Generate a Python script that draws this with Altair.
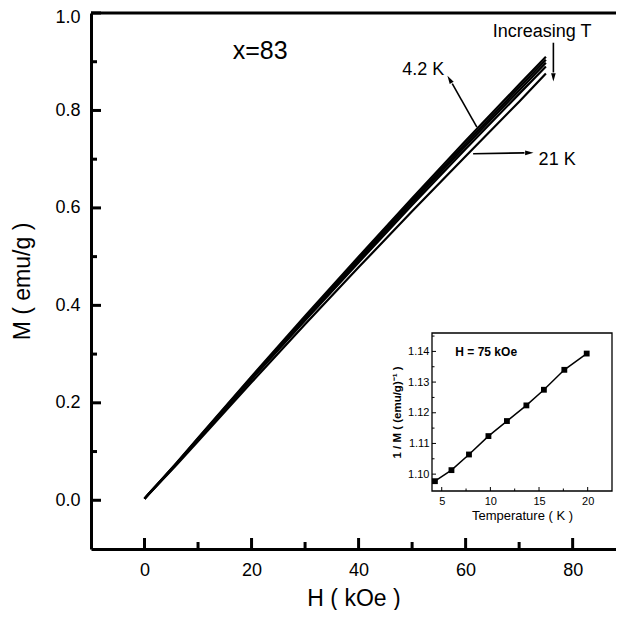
import altair as alt
import pandas as pd

FONT = "Liberation Sans"

# ---- main M(H) curves ----
H = [0, 1, 3, 6, 10, 20, 30, 40, 50, 60, 70, 75]
M_4K = [0.003, 0.016, 0.040, 0.077, 0.128, 0.254, 0.378, 0.500, 0.620, 0.738, 0.853, 0.910]
M_8K = [0.003, 0.016, 0.040, 0.076, 0.127, 0.252, 0.375, 0.496, 0.615, 0.732, 0.847, 0.904]
M_12K = [0.003, 0.016, 0.039, 0.075, 0.125, 0.250, 0.372, 0.492, 0.611, 0.727, 0.841, 0.898]
M_16K = [0.003, 0.015, 0.039, 0.075, 0.124, 0.248, 0.369, 0.488, 0.606, 0.721, 0.834, 0.890]
M_21K = [0.003, 0.015, 0.038, 0.073, 0.121, 0.242, 0.361, 0.478, 0.593, 0.706, 0.818, 0.876]
curve_T = ["4.2 K", "7.8 K", "11.7 K", "15.5 K", "21 K"]
curves = [M_4K, M_8K, M_12K, M_16K, M_21K]

# ---- inset 1/M(T) at 75 kOe ----
T_inset = [4.3, 6.0, 7.8, 9.8, 11.7, 13.7, 15.5, 17.6, 19.9]
invM = [1.0977, 1.1013, 1.1064, 1.1124, 1.1173, 1.1224, 1.1275, 1.1340, 1.1393]

# axis ticks
x_major = [0, 20, 40, 60, 80]
x_minor = [10, 30, 50, 70]
y_major = [0.0, 0.2, 0.4, 0.6, 0.8, 1.0]
y_minor = [0.1, 0.3, 0.5, 0.7, 0.9]
ix_major = [5, 10, 15, 20]
ix_minor = [7.5, 12.5, 17.5]
iy_major = [1.10, 1.11, 1.12, 1.13, 1.14]
iy_minor = [1.105, 1.115, 1.125, 1.135, 1.145]

X_DOM = [-10, 88.1]
Y_DOM = [-0.1, 1.0]
W, HGT = 525, 536

rows = []
for t, m in zip(curve_T, curves):
    for h, v in zip(H, m):
        rows.append({"H": h, "M": v, "T": t})
df = pd.DataFrame(rows)

xs = alt.Scale(domain=X_DOM, nice=False, zero=False)
ys = alt.Scale(domain=Y_DOM, nice=False, zero=False)

xaxis = alt.Axis(values=x_major, format="d", ticks=False, grid=False, domainWidth=3,
                 domainColor="black", labelFontSize=18, labelPadding=12, labelColor="black",
                 labelFont=FONT, title="H ( kOe )", titleFont=FONT, titleFontSize=23,
                 titleFontWeight="normal", titleColor="black", titleY=56,
                 titleBaseline="alphabetic")
yaxis = alt.Axis(values=y_major, format=".1f", ticks=False, grid=False, domainWidth=3,
                 domainColor="black", labelFontSize=18, labelPadding=11, labelColor="black",
                 labelFont=FONT, labelFlush=True, labelFlushOffset=5,
                 title="M ( emu/g )", titleFont=FONT, titleFontSize=23,
                 titleFontWeight="normal", titleColor="black", titleX=-57)

lines = alt.Chart(df).mark_line(color="black", strokeWidth=2.2).encode(
    x=alt.X("H:Q", scale=xs, axis=xaxis),
    y=alt.Y("M:Q", scale=ys, axis=yaxis),
    detail="T:N",
)

xmaj = alt.Chart(pd.DataFrame({"H": x_major})).mark_rule(color="black", strokeWidth=3).encode(
    x=alt.X("H:Q", scale=xs), y=alt.value(HGT), y2=alt.value(HGT - 11))
xmin = alt.Chart(pd.DataFrame({"H": x_minor})).mark_rule(color="black", strokeWidth=3).encode(
    x=alt.X("H:Q", scale=xs), y=alt.value(HGT), y2=alt.value(HGT - 7))
ymaj = alt.Chart(pd.DataFrame({"M": y_major})).mark_rule(color="black", strokeWidth=3).encode(
    y=alt.Y("M:Q", scale=ys), x=alt.value(0), x2=alt.value(10))
ymin = alt.Chart(pd.DataFrame({"M": y_minor})).mark_rule(color="black", strokeWidth=3).encode(
    y=alt.Y("M:Q", scale=ys), x=alt.value(0), x2=alt.value(6))
topline = alt.Chart(pd.DataFrame({"M": [1.0]})).mark_rule(color="black", strokeWidth=3).encode(
    y=alt.Y("M:Q", scale=ys), x=alt.value(0), x2=alt.value(W))

# annotations
labels = pd.DataFrame({
    "H": [21.6, 52.1, 77.1, 74.3],
    "M": [0.923, 0.882, 0.698, 0.960],
    "txt": ["x=83", "4.2 K", "21 K", "Increasing T"],
    "size": [25, 18, 18, 18],
})
texts = alt.Chart(labels).mark_text(font=FONT, color="black", align="center", baseline="middle").encode(
    x=alt.X("H:Q", scale=xs), y=alt.Y("M:Q", scale=ys), text="txt:N",
    size=alt.Size("size:Q", scale=None, legend=None))

arrows = pd.DataFrame({
    "H": [62.1, 61.4, 76.4],
    "M": [0.766, 0.711, 0.939],
    "H2": [57.5, 71.0, 76.4],
    "M2": [0.855, 0.713, 0.878],
    "hx": [57.0, 71.9, 76.4],
    "hy": [0.864, 0.713, 0.868],
    "ang": [329.4, 90, 180],
})
shafts = alt.Chart(arrows).mark_rule(color="black", strokeWidth=1.6).encode(
    x=alt.X("H:Q", scale=xs), y=alt.Y("M:Q", scale=ys), x2="H2:Q", y2="M2:Q")
heads = alt.Chart(arrows).mark_point(shape="M0,-1L0.55,1L-0.55,1Z", filled=True, color="black",
                                     size=70, opacity=1).encode(
    x=alt.X("hx:Q", scale=xs), y=alt.Y("hy:Q", scale=ys),
    angle=alt.Angle("ang:Q", scale=None))

main = alt.layer(lines, xmaj, xmin, ymaj, ymin, topline, shafts, heads, texts)

# ---- inset ----
IX_DOM = [4, 22.5]
IY_DOM = [1.0945, 1.146]
IX_R = [341, 521]
IY_R = [478, 320]
ixs = alt.Scale(domain=IX_DOM, range=IX_R, nice=False, zero=False)
iys = alt.Scale(domain=IY_DOM, range=IY_R, nice=False, zero=False)

frame = alt.Chart(pd.DataFrame({"a": [IX_DOM[0]], "b": [IX_DOM[1]], "c": [IY_DOM[0]], "d": [IY_DOM[1]]})).mark_rect(
    fill="white", stroke="black", strokeWidth=1.3).encode(
    x=alt.X("a:Q", scale=ixs, axis=alt.Axis(
        orient="bottom", offset=-(HGT - IY_R[0]), values=ix_major, format="d", ticks=False, grid=False,
        domain=False, labelFontSize=11, labelPadding=4, labelColor="black", labelFont=FONT,
        title="Temperature ( K )", titleFont=FONT, titleFontSize=13, titleFontWeight="normal",
        titleColor="black", titlePadding=3)),
    x2="b:Q",
    y=alt.Y("c:Q", scale=iys, axis=alt.Axis(
        orient="left", offset=-IX_R[0], values=iy_major, format=".2f", ticks=False, grid=False,
        domain=False, labelFontSize=11, labelPadding=3, labelColor="black", labelFont=FONT,
        title="1 / M ( (emu/g)⁻¹ )", titleFont=FONT, titleFontSize=11.5, titleFontWeight="bold",
        titleColor="black", titlePadding=5)),
    y2="d:Q",
)
ipdf = pd.DataFrame({"T": T_inset, "inv": invM})
iline = alt.Chart(ipdf).mark_line(color="black", strokeWidth=1.5).encode(
    x=alt.X("T:Q", scale=ixs), y=alt.Y("inv:Q", scale=iys))
ipts = alt.Chart(ipdf).mark_point(shape="square", filled=True, color="black", size=34, opacity=1).encode(
    x=alt.X("T:Q", scale=ixs), y=alt.Y("inv:Q", scale=iys))
ixmaj = alt.Chart(pd.DataFrame({"T": ix_major})).mark_rule(color="black", strokeWidth=1).encode(
    x=alt.X("T:Q", scale=ixs), y=alt.value(IY_R[0]), y2=alt.value(IY_R[0] - 4))
ixmin = alt.Chart(pd.DataFrame({"T": ix_minor})).mark_rule(color="black", strokeWidth=1).encode(
    x=alt.X("T:Q", scale=ixs), y=alt.value(IY_R[0]), y2=alt.value(IY_R[0] - 2.5))
iymaj = alt.Chart(pd.DataFrame({"v": iy_major})).mark_rule(color="black", strokeWidth=1).encode(
    y=alt.Y("v:Q", scale=iys), x=alt.value(IX_R[0]), x2=alt.value(IX_R[0] + 4))
iymin = alt.Chart(pd.DataFrame({"v": iy_minor})).mark_rule(color="black", strokeWidth=1).encode(
    y=alt.Y("v:Q", scale=iys), x=alt.value(IX_R[0]), x2=alt.value(IX_R[0] + 2.5))
itxt = alt.Chart(pd.DataFrame({"T": [6.4], "v": [1.1397], "t": ["H = 75 kOe"]})).mark_text(
    font=FONT, fontSize=12, fontWeight="bold", color="black", align="left", baseline="middle").encode(
    x=alt.X("T:Q", scale=ixs), y=alt.Y("v:Q", scale=iys), text="t:N")

inset = alt.layer(frame, iline, ipts, ixmaj, ixmin, iymaj, iymin, itxt)

chart = alt.layer(main, inset).resolve_scale(x="independent", y="independent").properties(
    width=W, height=HGT,
    autosize=alt.AutoSizeParams(type="none"),
    padding={"left": 83, "top": 5, "right": 0, "bottom": 61},
    background="white",
).configure_view(stroke=None)

chart.save("out.html", embed_options={"renderer": "svg", "actions": False})
